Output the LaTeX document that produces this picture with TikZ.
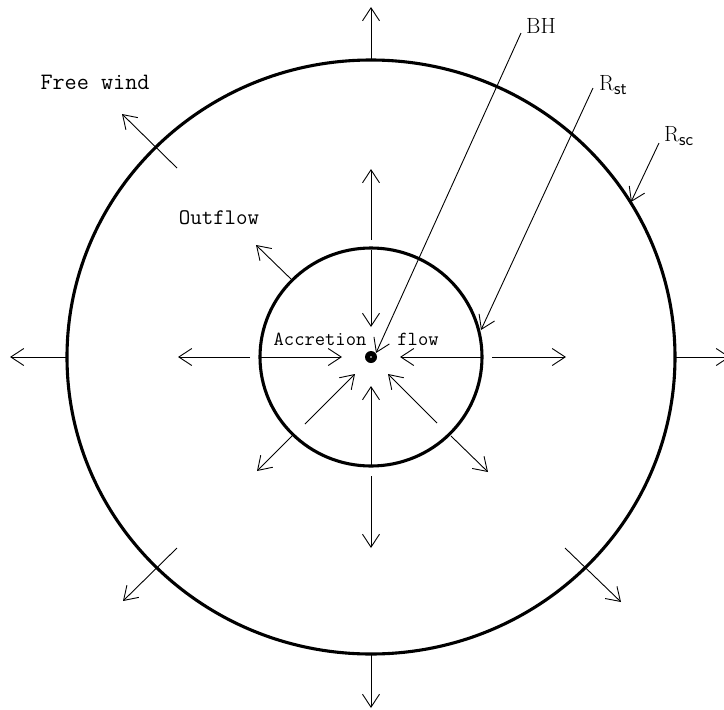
\documentclass[tikz,border=0pt]{standalone}
\usetikzlibrary{arrows.meta,shapes.geometric}
\begin{document}
\begin{tikzpicture}[x=1pt,y=-1pt,
  flow/.style={line width=0.9pt,-{Straight Barb[length=13pt,width=17pt,line width=0.9pt]}},
  ring/.style={line width=3.1pt},
  ptr/.style={line width=0.9pt,-{Straight Barb[length=13pt,width=17pt,line width=0.9pt]}},
  lbl/.style={font=\fontsize{20}{22}\selectfont\ttfamily,inner sep=0pt},
  rlbl/.style={font=\fontsize{22}{24}\selectfont,inner sep=0pt,anchor=south west}
]
\newcommand{\mysub}[1]{\raisebox{-4pt}{\fontsize{18}{18}\selectfont\sffamily #1}}
\useasboundingbox (0,0) rectangle (724,710);
\clip (0,0) rectangle (724,710);
% rings
\node[ring,draw,ellipse,minimum width=608pt,minimum height=594pt,inner sep=0pt,outer sep=0pt] (outer) at (371,357) {};
\node[ring,draw,ellipse,minimum width=222pt,minimum height=218pt,inner sep=0pt,outer sep=0pt] (inner) at (371,357) {};
% black hole
\node[circle,fill=black,minimum size=12pt,inner sep=0pt] (bh) at (371,357) {};
\fill[white] (bh.center) circle (0.8pt);
% coordinates
\coordinate (ou1) at (371,60);   \coordinate (ou2) at (371,7);
\coordinate (od1) at (371,654);  \coordinate (od2) at (371,708);
\coordinate (ol1) at (67,357);   \coordinate (ol2) at (10,357);
\coordinate (or1) at (676,357);  \coordinate (or2) at (730,357);
\coordinate (oul1) at (177,168); \coordinate (oul2) at (122,114);
\coordinate (oll1) at (177,548); \coordinate (oll2) at (123,601);
\coordinate (olr1) at (565,548); \coordinate (olr2) at (621,602);
% outer free wind arrows
\draw[flow] (ou1) -- (ou2);
\draw[flow] (od1) -- (od2);
\draw[flow] (ol1) -- (ol2);
\draw[flow] (or1) -- (or2);
\draw[flow] (oul1) -- (oul2);
\draw[flow] (oll1) -- (oll2);
\draw[flow] (olr1) -- (olr2);
% outflow arrows
\coordinate (fu1) at (371,240);  \coordinate (fu2) at (371,169);
\coordinate (fd1) at (371,476);  \coordinate (fd2) at (371,548);
\coordinate (fl1) at (250,357);  \coordinate (fl2) at (178,357);
\coordinate (fr1) at (492,357);  \coordinate (fr2) at (566,357);
\coordinate (ful1) at (292,280); \coordinate (ful2) at (256,245);
\coordinate (fll1) at (293,435); \coordinate (fll2) at (257,471);
\coordinate (flr1) at (451,436); \coordinate (flr2) at (488,472);
\draw[flow] (fu1) -- (fu2);
\draw[flow] (fd1) -- (fd2);
\draw[flow] (fl1) -- (fl2);
\draw[flow] (fr1) -- (fr2);
\draw[flow] (ful1) -- (ful2);
\draw[flow] (fll1) -- (fll2);
\draw[flow] (flr1) -- (flr2);
% accretion arrows
\coordinate (au1) at (371,250);  \coordinate (au2) at (371,327);
\coordinate (ad1) at (371,466);  \coordinate (ad2) at (371,386);
\coordinate (al1) at (260,357);  \coordinate (al2) at (342,357);
\coordinate (ar1) at (482,357);  \coordinate (ar2) at (400,357);
\coordinate (all1) at (305,424); \coordinate (all2) at (355,374);
\coordinate (alr1) at (437,423); \coordinate (alr2) at (388,374);
\draw[flow] (au1) -- (au2);
\draw[flow] (ad1) -- (ad2);
\draw[flow] (al1) -- (al2);
\draw[flow] (ar1) -- (ar2);
\draw[flow] (all1) -- (all2);
\draw[flow] (alr1) -- (alr2);
% text labels
\node[lbl,font=\fontsize{23.5}{25}\selectfont\ttfamily] (free) at (95,82) {Free wind};
\node[lbl,font=\fontsize{22.3}{24}\selectfont\ttfamily] (out) at (219,218) {Outflow};
\node[lbl] (acc) at (320,339) {Accretion};
\node[lbl] (flw) at (418,339) {flow};
\node[rlbl] (bhl) at (526,34) {BH};
\node[rlbl] (rst) at (599,95) {R\mysub{st}};
\node[rlbl] (rsc) at (664,146) {R\mysub{sc}};
% pointer lines
\coordinate (pbh) at (521,33);  \coordinate (tbh) at (376,353);
\coordinate (pst) at (593,88);  \coordinate (tst) at (481,330);
\coordinate (psc) at (659,143); \coordinate (tsc) at (631,202);
\draw[ptr] (pbh) -- (tbh);
\draw[ptr] (pst) -- (tst);
\draw[ptr] (psc) -- (tsc);
\end{tikzpicture}
\end{document}
